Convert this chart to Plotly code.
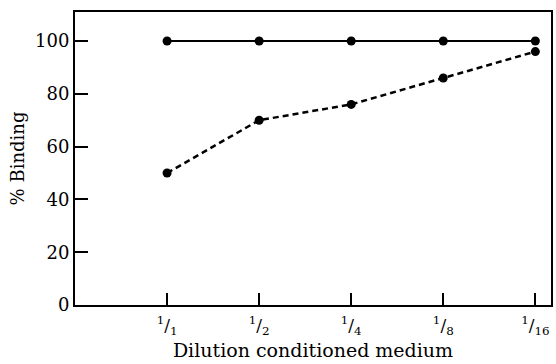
import plotly.graph_objects as go

categories = ["1/1", "1/2", "1/4", "1/8", "1/16"]
tick_labels = ["<sup>1</sup>/<sub>1</sub>", "<sup>1</sup>/<sub>2</sub>", "<sup>1</sup>/<sub>4</sub>",
               "<sup>1</sup>/<sub>8</sub>", "<sup>1</sup>/<sub>16</sub>"]
solid_values = [100, 100, 100, 100, 100]
dashed_values = [50, 70, 76, 86, 96]
y_ticks = [0, 20, 40, 60, 80, 100]

xpos = list(range(len(categories)))
font_family = "DejaVu Serif, Liberation Serif, serif"

fig = go.Figure()
fig.add_trace(go.Scatter(x=xpos, y=solid_values, mode="lines+markers",
                         line=dict(color="black", width=2),
                         marker=dict(color="black", size=9), showlegend=False))
fig.add_trace(go.Scatter(x=xpos, y=dashed_values, mode="lines+markers",
                         line=dict(color="black", width=2.5, dash="6px,4px"),
                         marker=dict(color="black", size=9), showlegend=False))

fig.update_layout(
    width=556, height=364,
    margin=dict(l=75, r=3, t=12, b=59),
    plot_bgcolor="white", paper_bgcolor="white",
    font=dict(family=font_family, color="black", size=17),
    xaxis=dict(range=[-1.0, 4.17], tickvals=xpos, ticktext=tick_labels,
               ticks="inside", ticklen=12, tickwidth=2, tickcolor="black",
               showline=True, linecolor="black", linewidth=2, mirror=True,
               showgrid=False, zeroline=False, ticklabelstandoff=4,
               tickfont=dict(size=17),
               title=dict(text="Dilution conditioned medium", font=dict(size=19), standoff=7)),
    yaxis=dict(range=[0, 111], tickvals=y_ticks,
               ticks="inside", ticklen=13, tickwidth=2, tickcolor="black",
               showline=True, linecolor="black", linewidth=2, mirror=True,
               showgrid=False, zeroline=False,
               tickfont=dict(size=18),
               title=dict(text="% Binding", font=dict(size=18), standoff=6)),
)

fig.write_html("out.html")
